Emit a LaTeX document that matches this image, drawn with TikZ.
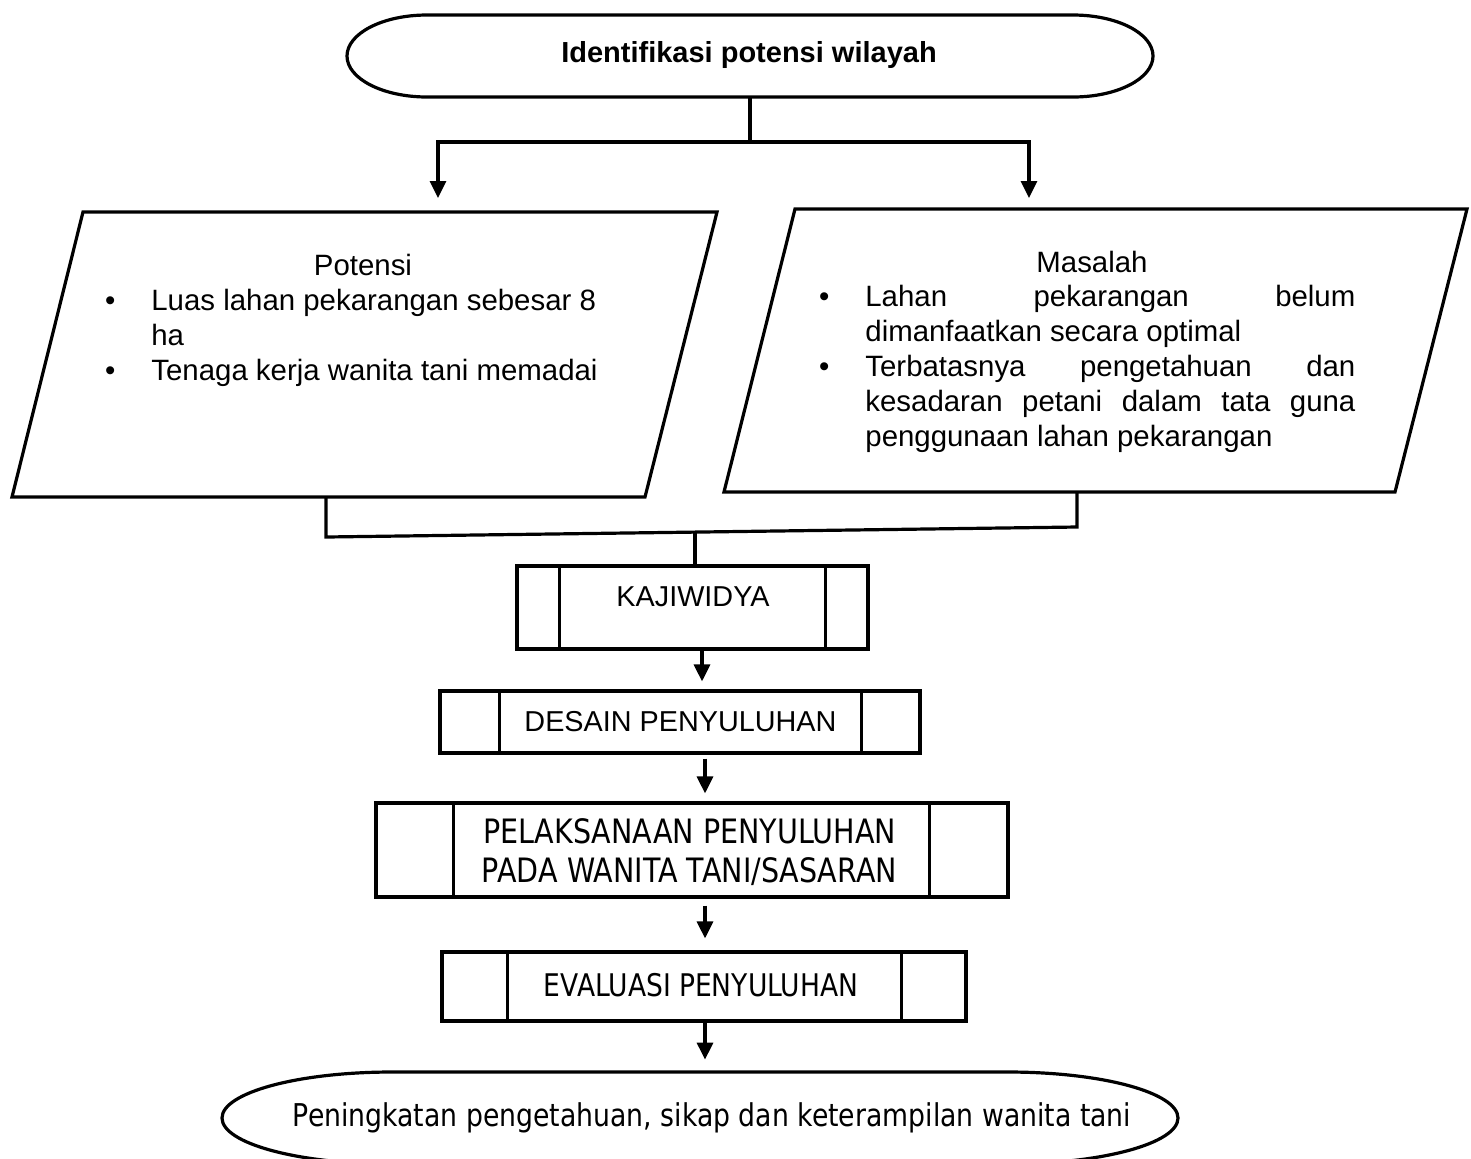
\documentclass[tikz,border=0pt]{standalone}
\usepackage{fontspec}
\setmainfont{Liberation Sans}
\newfontfamily\tah[FakeStretch=0.85]{DejaVu Sans}
\usetikzlibrary{arrows.meta}
\begin{document}
\begin{tikzpicture}[x=0.5pt,y=-0.5pt,
  ln/.style={line width=1.6pt},
  arr/.style={line width=1.6pt,-{Triangle[width=8pt,length=8.5pt]}},
  proc/.style={draw,line width=1.6pt,inner sep=0pt},
  shp/.style={inner sep=0pt},
  txt/.style={inner sep=0pt,font=\fontsize{14.7}{17.5}\selectfont},
  boxtxt/.style={inner sep=0pt,font=\fontsize{14.4}{17}\selectfont}]
\useasboundingbox (0,0) rectangle (1471,1158);
\clip (0,0) rectangle (1471,1158);

% start terminator
\node[shp,minimum width=403pt,minimum height=41pt] (start) at (750,56) {};
\draw[ln] (427,15) -- (1073,15) arc[start angle=-90,end angle=90,x radius=80,y radius=41]
  -- (427,97) arc[start angle=90,end angle=270,x radius=80,y radius=41] -- cycle;
\node[inner sep=0pt,font=\bfseries\fontsize{14.5}{17}\selectfont] (startT) at (749,55) {Identifikasi potensi wilayah};

% split
\coordinate (sp) at (750,142);
\coordinate (potIn) at (438,198);
\coordinate (masIn) at (1029,198);
\draw[ln] (start.south) -- (sp);
\draw[arr] (sp) -| (potIn);
\draw[arr] (sp) -| (masIn);

% Potensi parallelogram
\draw[ln] (83,212) -- (717,212) -- (645,497) -- (12,497) -- cycle;
\node[txt] (potT) at (363,265) {Potensi};
\node[txt,align=left,anchor=west] (potL) at (151,338) {%
\llap{\textbullet\hspace{18pt}}Luas lahan pekarangan sebesar 8\\
ha\\
\llap{\textbullet\hspace{18pt}}Tenaga kerja wanita tani memadai};

% Masalah parallelogram
\draw[ln] (795,209) -- (1467,209) -- (1395,492) -- (724,492) -- cycle;
\node[txt] (masT) at (1092,262) {Masalah};
\node[txt,align=left,anchor=west] (masL) at (865,369) {%
\llap{\textbullet\hspace{18pt}}\makebox[245pt][s]{Lahan pekarangan belum}\\
dimanfaatkan secara optimal\\
\llap{\textbullet\hspace{18pt}}\makebox[245pt][s]{Terbatasnya pengetahuan dan}\\
\makebox[245pt][s]{kesadaran petani dalam tata guna}\\
penggunaan lahan pekarangan};

% join
\coordinate (potOut) at (326,497);
\coordinate (masOut) at (1077,492);
\coordinate (jl) at (326,537);
\coordinate (jr) at (1077,527);
\coordinate (jm) at (695,532);
\draw[ln] (potOut) -- (jl) -- (jr) -- (masOut);

% KAJIWIDYA
\node[proc,minimum width=175.5pt,minimum height=41.5pt] (kaji) at (692.5,607.5) {};
\draw[ln] ([xshift=22pt]kaji.north west) -- ([xshift=22pt]kaji.south west);
\draw[ln] ([xshift=-22pt]kaji.north east) -- ([xshift=-22pt]kaji.south east);
\node[boxtxt] (kajiT) at (693,597) {KAJIWIDYA};
\draw[ln] (jm) -- (jm |- kaji.north);

% DESAIN
\node[proc,minimum width=240pt,minimum height=31pt] (desain) at (680,722) {};
\draw[ln] ([xshift=30.5pt]desain.north west) -- ([xshift=30.5pt]desain.south west);
\draw[ln] ([xshift=-30pt]desain.north east) -- ([xshift=-30pt]desain.south east);
\node[boxtxt] (desainT) at (680.5,722) {DESAIN PENYULUHAN};

% PELAKSANAAN
\node[proc,minimum width=316pt,minimum height=47pt] (pelak) at (692,850) {};
\draw[ln] ([xshift=39.5pt]pelak.north west) -- ([xshift=39.5pt]pelak.south west);
\draw[ln] ([xshift=-40pt]pelak.north east) -- ([xshift=-40pt]pelak.south east);
\node[inner sep=0pt,align=center,font=\tah\fontsize{16.8}{19.5}\selectfont] (pelakT) at (689.5,852) {PELAKSANAAN PENYULUHAN\\PADA WANITA TANI/SASARAN};

% EVALUASI
\node[proc,minimum width=262pt,minimum height=34.5pt] (eval) at (704,986.5) {};
\draw[ln] ([xshift=33.5pt]eval.north west) -- ([xshift=33.5pt]eval.south west);
\draw[ln] ([xshift=-33pt]eval.north east) -- ([xshift=-33pt]eval.south east);
\node[inner sep=0pt,font=\tah\fontsize{15.6}{18}\selectfont] (evalT) at (701,985) {EVALUASI PENYULUHAN};

% end terminator
\node[shp,minimum width=478pt,minimum height=46pt] (end) at (700,1118) {};
\draw[ln] (392,1072) -- (1008,1072) arc[start angle=-90,end angle=90,x radius=170,y radius=46]
  -- (392,1164) arc[start angle=90,end angle=270,x radius=170,y radius=46] -- cycle;
\node[inner sep=0pt,font=\tah\fontsize{15.7}{18}\selectfont] (endT) at (712,1118) {Peningkatan pengetahuan, sikap dan keterampilan wanita tani};

% arrows between process boxes
\coordinate (a1) at (702,0);
\coordinate (a2) at (705,0);
\draw[arr,shorten >=4pt] (kaji.south -| a1) -- (desain.north -| a1);
\draw[arr,shorten <=2pt,shorten >=4pt] (desain.south -| a2) -- (pelak.north -| a2);
\draw[arr,shorten <=3.5pt,shorten >=6pt] (pelak.south -| a2) -- (eval.north -| a2);
\draw[arr,shorten >=6pt] (eval.south -| a2) -- (end.north -| a2);
\end{tikzpicture}
\end{document}
